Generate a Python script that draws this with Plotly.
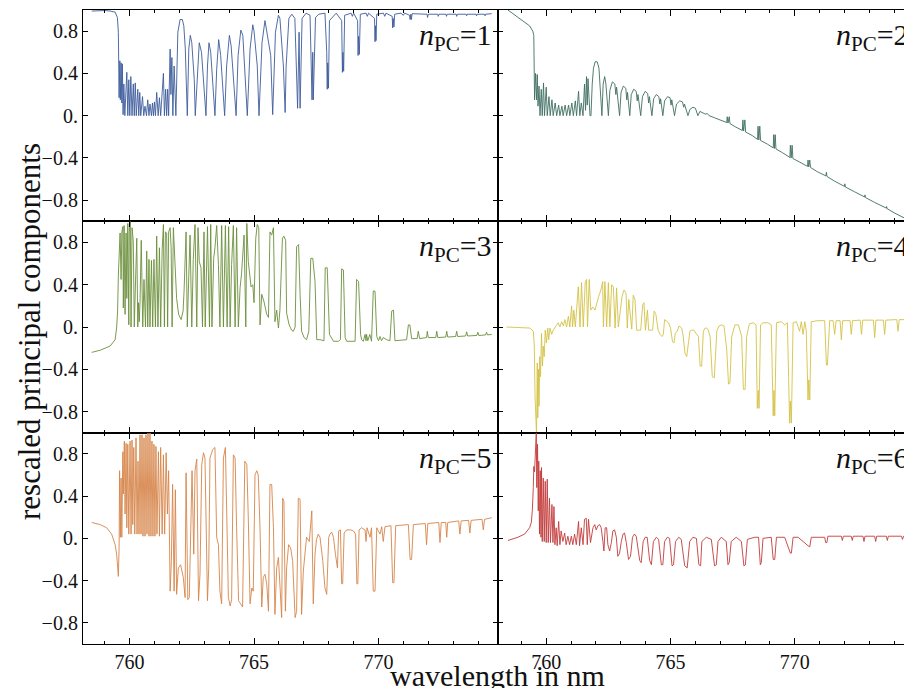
import plotly.graph_objects as go
from plotly.subplots import make_subplots

# ---------------- data (wavelength in nm, rescaled component value) ----------------
pc1 = [(758.48, 0.99), (759.00, 0.995), (759.22, 0.99), (759.42, 0.98), (759.51, 0.93), (759.55, 0.79),
       (759.58, 0.17), (759.61, 0.52), (759.63, 0.15), (759.66, 0.50), (759.69, 0.12), (759.71, 0.49),
       (759.74, 0.01), (759.77, 0.30), (759.81, 0.0), (759.89, 0.41), (759.93, 0.0), (759.97, 0.34),
       (760.01, 0.0), (760.05, 0.37), (760.10, 0.0), (760.15, 0.30), (760.19, 0.0), (760.23, 0.31),
       (760.27, 0.0), (760.33, 0.25), (760.37, 0.0), (760.41, 0.22), (760.45, 0.0), (760.52, 0.18),
       (760.57, 0.0), (760.62, 0.09), (760.68, 0.0), (760.73, 0.15), (760.78, 0.0), (760.82, 0.11),
       (760.88, 0.0), (760.92, 0.12), (760.96, 0.0), (761.00, 0.13), (761.04, 0.0), (761.09, 0.22),
       (761.15, 0.0), (761.20, 0.17), (761.25, 0.0), (761.36, 0.40), (761.40, 0.0), (761.45, 0.25),
       (761.49, 0.0), (761.53, 0.25), (761.57, 0.0), (761.63, 0.63), (761.66, 0.20), (761.70, 0.55),
       (761.74, 0.0), (761.79, 0.47), (761.86, 0.0),
       (761.94, 0.79), (762.03, 0.91), (762.12, 0.91), (762.18, 0.85), (762.20, 0.77), (762.24, 0.63),
       (762.28, 0.31), (762.32, 0.0),
       (762.38, 0.63), (762.44, 0.76), (762.50, 0.69), (762.56, 0.47), (762.60, 0.34), (762.64, 0.0),
       (762.74, 0.47), (762.80, 0.69), (762.89, 0.60), (762.99, 0.23), (763.07, 0.0),
       (763.13, 0.47), (763.19, 0.69), (763.26, 0.60), (763.37, 0.20), (763.43, 0.0),
       (763.50, 0.44), (763.58, 0.72), (763.66, 0.57), (763.77, 0.18), (763.82, 0.0),
       (763.90, 0.47), (764.01, 0.76), (764.08, 0.66), (764.20, 0.25), (764.28, 0.0),
       (764.36, 0.57), (764.47, 0.81), (764.55, 0.76), (764.67, 0.31), (764.73, 0.0),
       (764.84, 0.63), (764.95, 0.86), (765.00, 0.80), (765.13, 0.47), (765.20, 0.0),
       (765.32, 0.69), (765.44, 0.90), (765.51, 0.80), (765.67, 0.57), (765.75, 0.01),
       (765.86, 0.79), (765.98, 0.95), (766.04, 0.92), (766.18, 0.47), (766.25, 0.03),
       (766.29, 0.47), (766.40, 0.92), (766.52, 0.96), (766.64, 0.92), (766.75, 0.07), (766.81, 0.79),
       (766.85, 0.07), (766.93, 0.92), (767.09, 0.97), (767.25, 0.95), (767.33, 0.15), (767.36, 0.60),
       (767.38, 0.15), (767.47, 0.93), (767.60, 0.96), (767.85, 0.97), (767.92, 0.60), (767.94, 0.25),
       (767.96, 0.50), (767.99, 0.26), (768.03, 0.90), (768.30, 0.97), (768.52, 0.90), (768.55, 0.41),
       (768.57, 0.60), (768.60, 0.42), (768.64, 0.95), (768.90, 0.97), (768.95, 0.94), (769.00, 0.97),
       (769.16, 0.90), (769.18, 0.57), (769.20, 0.75), (769.23, 0.58), (769.27, 0.96), (769.50, 0.97),
       (769.55, 0.94), (769.60, 0.97), (769.84, 0.92), (769.86, 0.70), (769.88, 0.85), (769.90, 0.71),
       (769.93, 0.96), (770.20, 0.97), (770.25, 0.94), (770.30, 0.97), (770.55, 0.94), (770.57, 0.83),
       (770.59, 0.92), (770.62, 0.84), (770.65, 0.96), (770.90, 0.97), (771.00, 0.95), (771.05, 0.97),
       (771.25, 0.95), (771.27, 0.91), (771.30, 0.96), (771.32, 0.91), (771.35, 0.965), (771.60, 0.96),
       (771.95, 0.96), (771.97, 0.93), (772.00, 0.96), (772.38, 0.96), (772.40, 0.94), (772.43, 0.96),
       (772.71, 0.96), (772.73, 0.94), (772.76, 0.96), (773.12, 0.96), (773.14, 0.94), (773.17, 0.96),
       (773.52, 0.96), (773.54, 0.945), (773.56, 0.96), (773.92, 0.96), (773.94, 0.945), (773.96, 0.96),
       (774.26, 0.96), (774.28, 0.945), (774.30, 0.96), (774.55, 0.965)]

pc2 = [(758.46, 1.0), (759.33, 0.85), (759.46, 0.80), (759.50, 0.76), (759.53, 0.15), (759.57, 0.40),
       (759.61, 0.15), (759.64, 0.39), (759.67, 0.09), (759.71, 0.28), (759.75, 0.0), (759.80, 0.25),
       (759.84, 0.0), (759.89, 0.31), (759.93, 0.0), (760.00, 0.27), (760.04, 0.0), (760.11, 0.18),
       (760.16, 0.0), (760.23, 0.15), (760.28, 0.0), (760.36, 0.12), (760.42, 0.0), (760.50, 0.10),
       (760.55, 0.0), (760.63, 0.09), (760.68, 0.0), (760.76, 0.10), (760.82, 0.0), (760.90, 0.10),
       (760.95, 0.0), (761.03, 0.12), (761.09, 0.0), (761.17, 0.14), (761.22, 0.0), (761.30, 0.23),
       (761.35, 0.0), (761.41, 0.12), (761.48, 0.0), (761.54, 0.30), (761.58, 0.05), (761.62, 0.37),
       (761.65, 0.10), (761.68, 0.35), (761.76, 0.0), (761.80, 0.0),
       (761.85, 0.30), (761.90, 0.45), (761.97, 0.51), (762.05, 0.51), (762.12, 0.45), (762.17, 0.30),
       (762.24, 0.0), (762.29, 0.30), (762.35, 0.37), (762.40, 0.30), (762.45, 0.10), (762.50, 0.0),
       (762.56, 0.24), (762.66, 0.32), (762.76, 0.30), (762.80, 0.20), (762.83, 0.27), (762.90, 0.12),
       (762.95, 0.0), (763.01, 0.22), (763.10, 0.28), (763.20, 0.26), (763.24, 0.15), (763.27, 0.22),
       (763.33, 0.08), (763.36, 0.0), (763.42, 0.20), (763.52, 0.25), (763.62, 0.23), (763.66, 0.14),
       (763.69, 0.20), (763.76, 0.06), (763.80, 0.0), (763.87, 0.18), (763.98, 0.23), (764.08, 0.21),
       (764.12, 0.12), (764.15, 0.18), (764.21, 0.05), (764.25, 0.0), (764.32, 0.16), (764.43, 0.20),
       (764.53, 0.18), (764.57, 0.11), (764.60, 0.16), (764.66, 0.04), (764.69, 0.0), (764.76, 0.14),
       (764.88, 0.18), (764.98, 0.17), (765.02, 0.10), (765.05, 0.15), (765.12, 0.04), (765.16, 0.0),
       (765.24, 0.11), (765.37, 0.14), (765.48, 0.13), (765.53, 0.08), (765.56, 0.11), (765.65, 0.03),
       (765.70, 0.0), (765.78, 0.06), (765.90, 0.08), (766.00, 0.07), (766.06, 0.02), (766.10, 0.0),
       (766.18, 0.04), (766.30, 0.03), (766.40, 0.015), (766.48, 0.02), (766.55, 0.0),
       (766.77, -0.02), (767.00, -0.04), (767.26, -0.065), (767.28, -0.01), (767.31, -0.07),
       (767.36, -0.01), (767.39, -0.075), (767.60, -0.105), (767.89, -0.14), (767.91, -0.04),
       (767.94, -0.145), (767.99, -0.04), (768.02, -0.155), (768.30, -0.19), (768.50, -0.225),
       (768.52, -0.10), (768.55, -0.23), (768.59, -0.10), (768.62, -0.235), (768.90, -0.27),
       (769.13, -0.305), (769.15, -0.18), (769.18, -0.31), (769.21, -0.18), (769.24, -0.315),
       (769.50, -0.35), (769.80, -0.395), (769.82, -0.28), (769.85, -0.40), (769.89, -0.28),
       (769.92, -0.405), (770.20, -0.44), (770.51, -0.48), (770.53, -0.42), (770.56, -0.485),
       (770.60, -0.42), (770.63, -0.49), (770.90, -0.53), (771.25, -0.57), (771.27, -0.535),
       (771.29, -0.575), (771.60, -0.62), (772.00, -0.67), (772.01, -0.645), (772.03, -0.675),
       (772.40, -0.72), (772.81, -0.77), (772.82, -0.75), (772.84, -0.775), (773.20, -0.82),
       (773.68, -0.875), (773.69, -0.86), (773.71, -0.88), (774.00, -0.92), (774.30, -0.955),
       (774.50, -0.98)]

pc3 = [(758.48, -0.24), (758.82, -0.22), (759.22, -0.18), (759.42, -0.12), (759.48, -0.01),
       (759.52, 0.15), (759.55, 0.49), (759.62, 0.89), (759.66, 0.45), (759.69, 0.90), (759.73, 0.95),
       (759.75, 0.18), (759.78, 0.96), (759.82, 0.12), (759.86, 0.89), (759.89, 0.27), (759.93, 0.98),
       (759.97, 0.02), (759.99, 0.90), (760.03, 1.0), (760.06, 0.0), (760.10, 0.94), (760.15, 0.81),
       (760.19, 0.0), (760.25, 0.51), (760.29, 0.84), (760.33, 0.0), (760.36, 0.23), (760.39, 0.05),
       (760.42, 0.23), (760.47, 0.82), (760.53, 0.0), (760.58, 0.45), (760.64, 0.0), (760.69, 0.72),
       (760.73, 0.0), (760.78, 0.64), (760.82, 0.0), (760.88, 0.63), (760.93, 0.0), (760.98, 0.64),
       (761.04, 0.0), (761.09, 0.86), (761.14, 0.0), (761.20, 0.75), (761.25, 0.0), (761.31, 0.73),
       (761.36, 0.97), (761.40, 0.0), (761.44, 0.90), (761.49, 0.89), (761.53, 0.0), (761.57, 0.90),
       (761.63, 0.94), (761.67, 0.75), (761.71, 0.0), (761.76, 0.94), (761.81, 0.71), (761.89, 0.27),
       (761.97, 0.12), (762.07, 0.07), (762.15, 0.15), (762.19, 0.34), (762.27, 0.90), (762.32, 0.0),
       (762.38, 0.49), (762.43, 0.87), (762.50, 0.0), (762.56, 0.64), (762.63, 0.97), (762.70, 0.0),
       (762.75, 0.94), (762.80, 0.62), (762.87, 0.56), (762.93, 0.0), (762.99, 0.90), (763.04, 0.0),
       (763.13, 0.95), (763.21, 0.0), (763.26, 0.97), (763.31, 0.0), (763.38, 0.65), (763.43, 0.75),
       (763.50, 0.96), (763.57, 0.59), (763.63, 0.0), (763.70, 0.96), (763.77, 0.0), (763.85, 0.96),
       (763.92, 0.0), (763.98, 0.95), (764.04, 0.0), (764.10, 0.59), (764.17, 0.96), (764.24, 0.0),
       (764.30, 0.94), (764.37, 0.0), (764.44, 0.37), (764.50, 0.51), (764.60, 0.87), (764.67, 0.0),
       (764.71, 0.98), (764.77, 0.62), (764.88, 0.38), (764.95, 0.40), (765.00, 0.23), (765.07, 0.84),
       (765.13, 0.97), (765.19, 0.94), (765.24, 0.02), (765.31, 0.31), (765.40, 0.24), (765.51, 0.12),
       (765.58, 0.09), (765.64, 0.90), (765.71, 0.87), (765.78, 0.94), (765.84, 0.05), (765.91, 0.16),
       (765.98, -0.01), (766.04, 0.16), (766.14, 0.84), (766.20, 0.86), (766.27, 0.82), (766.31, 0.13),
       (766.41, 0.02), (766.51, -0.03), (766.58, -0.04), (766.65, 0.0), (766.71, 0.76), (766.79, 0.78),
       (766.85, 0.31), (766.91, -0.04), (767.01, -0.10), (767.11, -0.12), (767.20, -0.04),
       (767.28, 0.65), (767.36, 0.65), (767.45, 0.43), (767.52, -0.12), (767.65, -0.12),
       (767.81, -0.13), (767.86, 0.56), (767.94, 0.56), (768.03, -0.07), (768.19, -0.135),
       (768.39, -0.135), (768.47, -0.12), (768.52, 0.55), (768.59, 0.54), (768.66, -0.10),
       (768.72, -0.135), (769.06, -0.135), (769.12, 0.45), (769.20, 0.43), (769.28, -0.07),
       (769.32, -0.12), (769.39, -0.135), (769.46, -0.07), (769.50, -0.13), (769.52, -0.07),
       (769.57, -0.13), (769.65, -0.07), (769.72, -0.135), (769.79, 0.34), (769.86, 0.34),
       (769.93, -0.09), (770.00, -0.13), (770.06, -0.09), (770.12, -0.13), (770.19, -0.10),
       (770.33, -0.12), (770.46, -0.13), (770.53, 0.15), (770.60, 0.16), (770.66, -0.13),
       (771.13, -0.12), (771.20, 0.02), (771.26, 0.02), (771.33, -0.11), (771.55, -0.11),
       (771.60, -0.04), (771.65, -0.11), (771.93, -0.10), (771.96, -0.04), (772.00, -0.10),
       (772.30, -0.10), (772.34, -0.04), (772.38, -0.10), (772.70, -0.095), (772.74, -0.04),
       (772.78, -0.095), (773.10, -0.09), (773.14, -0.04), (773.18, -0.09), (773.50, -0.085),
       (773.54, -0.045), (773.58, -0.085), (773.95, -0.08), (773.99, -0.05), (774.03, -0.08),
       (774.30, -0.075), (774.34, -0.05), (774.38, -0.075), (774.55, -0.07)]

pc4 = [(758.40, 0.0), (759.34, -0.01), (759.48, -0.04), (759.52, -0.18), (759.55, -0.65),
       (759.57, -0.84), (759.61, -1.02), (759.64, -0.34), (759.66, -0.86), (759.69, -0.40),
       (759.71, -0.75), (759.74, -0.28), (759.77, -0.47), (759.81, -0.06), (759.85, -0.37),
       (759.88, -0.18), (759.92, -0.28), (759.96, -0.03), (760.01, -0.15), (760.06, -0.01),
       (760.10, -0.12), (760.15, -0.01), (760.22, -0.07), (760.28, -0.03), (760.35, -0.01),
       (760.42, 0.02), (760.48, 0.04), (760.55, 0.0), (760.62, 0.05), (760.69, 0.01), (760.75, 0.07),
       (760.82, 0.0), (760.89, 0.10), (760.95, 0.0), (761.02, 0.20), (761.06, 0.0), (761.11, 0.16),
       (761.17, 0.0), (761.29, 0.38), (761.36, 0.0), (761.42, 0.42), (761.49, 0.0), (761.57, 0.43),
       (761.62, 0.45), (761.66, 0.0), (761.73, 0.45), (761.79, 0.16), (761.87, 0.19), (761.96, 0.16),
       (762.03, 0.23), (762.11, 0.29), (762.20, 0.35), (762.27, 0.43), (762.30, 0.0), (762.36, 0.43),
       (762.43, 0.0), (762.50, 0.42), (762.56, 0.0), (762.63, 0.40), (762.70, 0.38), (762.77, -0.01),
       (762.83, 0.37), (762.90, 0.0), (763.05, 0.29), (763.13, 0.35), (763.21, 0.32), (763.26, -0.01),
       (763.32, 0.26), (763.44, -0.02), (763.50, 0.30), (763.57, 0.26), (763.64, -0.03), (763.80, -0.03),
       (763.88, 0.21), (763.93, 0.23), (763.99, -0.03), (764.07, 0.16), (764.12, -0.03), (764.28, -0.03),
       (764.34, 0.15), (764.41, 0.12), (764.50, -0.03), (764.58, -0.07), (764.66, -0.09), (764.71, -0.07),
       (764.76, 0.07), (764.84, 0.05), (764.92, 0.04), (765.00, -0.01), (765.08, -0.14), (765.14, -0.15),
       (765.19, -0.06), (765.27, -0.04), (765.34, 0.01), (765.45, -0.01), (765.51, -0.09), (765.58, -0.25),
       (765.65, -0.28), (765.72, -0.15), (765.78, -0.04), (765.85, -0.03), (765.94, -0.03), (766.02, -0.06),
       (766.12, -0.09), (766.19, -0.37), (766.25, -0.37), (766.32, -0.04), (766.39, -0.01), (766.45, -0.01),
       (766.52, -0.03), (766.59, -0.09), (766.68, -0.47), (766.76, -0.48), (766.86, -0.04), (766.95, 0.01),
       (767.06, 0.02), (767.15, 0.01), (767.26, -0.21), (767.33, -0.54), (767.39, -0.53), (767.46, -0.09),
       (767.59, 0.02), (767.73, 0.02), (767.86, -0.09), (767.93, -0.59), (768.00, -0.59), (768.06, -0.09),
       (768.17, 0.03), (768.33, 0.04), (768.44, 0.02), (768.49, -0.77), (768.53, -0.60), (768.56, -0.77),
       (768.62, 0.02), (768.72, 0.04), (768.92, 0.04), (769.05, 0.02), (769.13, -0.84), (769.16, -0.60),
       (769.19, -0.84), (769.26, 0.04), (769.46, 0.05), (769.59, 0.02), (769.70, 0.04), (769.79, -0.91),
       (769.82, -0.70), (769.86, -0.91), (769.93, 0.04), (770.06, 0.05), (770.19, -0.04), (770.26, 0.05),
       (770.33, -0.07), (770.40, 0.05), (770.46, -0.04), (770.53, -0.69), (770.56, -0.50), (770.60, -0.69),
       (770.66, 0.05), (770.93, 0.06), (771.20, 0.06), (771.27, -0.36), (771.31, -0.36), (771.40, 0.06),
       (771.54, 0.06), (771.60, -0.07), (771.66, 0.06), (771.82, 0.06), (771.87, -0.12), (771.92, 0.06),
       (772.22, 0.06), (772.27, -0.07), (772.32, 0.06), (772.63, 0.065), (772.68, -0.07), (772.73, 0.065),
       (773.16, 0.065), (773.21, -0.10), (773.26, 0.065), (773.56, 0.065), (773.61, -0.07), (773.66, 0.065),
       (774.10, 0.07), (774.15, -0.04), (774.20, 0.07), (774.50, 0.07)]

pc5 = [(758.48, 0.15), (758.82, 0.13), (759.08, 0.10), (759.28, 0.04), (759.42, -0.06), (759.48, -0.15),
       (759.55, -0.36), (759.58, -0.09), (759.60, 0.64), (759.63, 0.01), (759.66, 0.57), (759.69, 0.01),
       (759.73, 0.82), (759.75, 0.42), (759.79, 0.92), (759.82, 0.23), (759.86, 0.90), (759.89, 0.10),
       (759.93, 0.89), (759.97, 0.04), (760.02, 0.92), (760.06, 0.04), (760.10, 0.93), (760.13, 0.13),
       (760.17, 0.86), (760.21, 0.04), (760.26, 0.95), (760.30, 0.04), (760.34, 0.73), (760.38, 0.04),
       (760.42, 0.98), (760.46, 0.04), (760.50, 0.98), (760.54, 0.02), (760.58, 0.95), (760.62, 0.02),
       (760.66, 0.98), (760.70, 0.04), (760.74, 1.0), (760.78, 0.02), (760.82, 1.0), (760.86, 0.02),
       (760.90, 0.92), (760.94, 0.02), (760.98, 0.89), (761.02, 0.02), (761.06, 0.87), (761.10, 0.04),
       (761.16, 0.82), (761.20, 0.02), (761.25, 0.86), (761.31, 0.04), (761.36, 0.79), (761.41, 0.04),
       (761.47, 0.81), (761.52, 0.23), (761.57, 0.64), (761.63, -0.50), (761.68, -0.21), (761.73, 0.51),
       (761.79, -0.50), (761.84, 0.46), (761.89, -0.53), (761.96, -0.28), (762.05, -0.25), (762.16, -0.37),
       (762.23, -0.56), (762.27, 0.62), (762.34, -0.58), (762.40, -0.56), (762.51, 0.64), (762.58, -0.15),
       (762.63, 0.64), (762.70, 0.75), (762.77, -0.59), (762.83, -0.34), (762.90, 0.70), (762.97, 0.81),
       (763.03, 0.76), (763.07, 0.10), (763.13, -0.59), (763.18, -0.28), (763.23, 0.76), (763.34, 0.84),
       (763.43, 0.86), (763.50, 0.01), (763.57, -0.06), (763.63, -0.50), (763.70, -0.62), (763.77, 0.76),
       (763.85, 0.86), (763.92, 0.04), (763.97, -0.56), (764.04, -0.64), (764.10, -0.58), (764.17, 0.79),
       (764.24, 0.76), (764.30, 0.10), (764.38, -0.59), (764.46, -0.62), (764.54, -0.65), (764.63, 0.73),
       (764.71, 0.70), (764.77, 0.19), (764.84, -0.62), (764.91, -0.47), (764.97, -0.50), (765.04, 0.60),
       (765.11, 0.64), (765.17, 0.60), (765.24, 0.10), (765.31, -0.65), (765.37, -0.37), (765.44, -0.34),
       (765.51, -0.43), (765.58, -0.69), (765.64, 0.51), (765.71, 0.51), (765.78, 0.10), (765.84, -0.72),
       (765.91, -0.28), (765.98, -0.18), (766.04, -0.47), (766.11, -0.75), (766.15, 0.38), (766.20, 0.35),
       (766.26, -0.69), (766.31, -0.28), (766.39, -0.06), (766.47, -0.09), (766.55, -0.21), (766.65, -0.75),
       (766.71, -0.69), (766.78, 0.38), (766.85, 0.37), (766.91, -0.72), (766.98, -0.31), (767.05, -0.15),
       (767.11, 0.01), (767.22, -0.03), (767.32, 0.26), (767.38, -0.62), (767.45, -0.15), (767.51, -0.01),
       (767.58, 0.04), (767.65, 0.01), (767.76, -0.21), (767.85, -0.47), (767.92, -0.53), (768.00, 0.01),
       (768.05, 0.04), (768.12, 0.06), (768.19, 0.01), (768.27, -0.15), (768.35, -0.28), (768.40, 0.07),
       (768.47, 0.08), (768.52, -0.43), (768.56, -0.43), (768.62, 0.05), (768.72, 0.08), (768.88, 0.08),
       (768.99, 0.07), (769.08, 0.04), (769.13, -0.43), (769.17, -0.43), (769.22, 0.08), (769.32, 0.10),
       (769.46, 0.08), (769.50, -0.03), (769.54, 0.10), (769.66, 0.01), (769.72, 0.10), (769.79, -0.50),
       (769.86, -0.50), (769.93, 0.10), (770.06, 0.04), (770.13, 0.11), (770.19, -0.03), (770.26, 0.11),
       (770.50, 0.12), (770.57, -0.42), (770.62, -0.42), (770.69, 0.12), (771.20, 0.13), (771.27, -0.20),
       (771.33, -0.20), (771.40, 0.13), (771.88, 0.14), (771.93, -0.06), (771.98, 0.14), (772.42, 0.15),
       (772.47, -0.04), (772.52, 0.15), (772.70, 0.15), (772.74, 0.01), (772.78, 0.15), (773.22, 0.165),
       (773.27, 0.04), (773.32, 0.165), (773.62, 0.17), (773.67, 0.05), (773.72, 0.17), (774.16, 0.18),
       (774.21, 0.08), (774.26, 0.18), (774.55, 0.195)]

pc6 = [(758.46, -0.02), (758.86, 0.01), (759.13, 0.04), (759.33, 0.10), (759.40, 0.15), (759.44, 0.26),
       (759.48, 0.48), (759.50, 0.68), (759.53, 0.63), (759.56, 0.76), (759.60, 1.0), (759.62, 0.48),
       (759.65, 0.89), (759.68, 0.26), (759.70, 0.73), (759.73, 0.04), (759.76, 0.64), (759.79, 0.01),
       (759.81, 0.67), (759.84, -0.03), (759.88, 0.57), (759.92, -0.03), (759.96, 0.54), (760.00, -0.04),
       (760.04, 0.56), (760.08, -0.04), (760.13, 0.38), (760.17, -0.04), (760.23, 0.32), (760.27, -0.04),
       (760.31, 0.30), (760.35, -0.06), (760.40, 0.10), (760.44, -0.07), (760.50, 0.16), (760.55, -0.06),
       (760.60, 0.07), (760.67, -0.03), (760.74, 0.05), (760.80, -0.06), (760.87, 0.02), (760.94, -0.06),
       (761.01, 0.02), (761.07, -0.06), (761.14, 0.04), (761.21, -0.06), (761.30, 0.16), (761.34, -0.07),
       (761.41, 0.10), (761.48, -0.06), (761.54, 0.18), (761.61, 0.19), (761.65, -0.06), (761.70, 0.18),
       (761.78, -0.04), (761.88, 0.10), (761.95, 0.13), (762.01, 0.08), (762.08, 0.12), (762.15, 0.13),
       (762.21, 0.10), (762.28, -0.03), (762.32, -0.12), (762.37, 0.10), (762.43, 0.10), (762.48, -0.06),
       (762.55, -0.12), (762.62, -0.04), (762.68, 0.07), (762.75, 0.08), (762.82, 0.01), (762.88, -0.17),
       (762.95, -0.14), (763.02, -0.03), (763.09, 0.04), (763.15, 0.05), (763.22, -0.04), (763.31, -0.20),
       (763.39, -0.17), (763.47, 0.01), (763.55, 0.04), (763.62, 0.02), (763.76, -0.21), (763.82, -0.23),
       (763.90, -0.03), (763.98, 0.01), (764.06, 0.01), (764.16, -0.21), (764.23, -0.25), (764.31, -0.03),
       (764.43, 0.01), (764.52, -0.01), (764.63, -0.25), (764.69, -0.25), (764.76, -0.03), (764.87, 0.01),
       (764.96, 0.0), (765.06, -0.26), (765.12, -0.25), (765.20, -0.03), (765.33, 0.01), (765.43, -0.01),
       (765.57, -0.26), (765.67, -0.28), (765.77, -0.03), (765.90, 0.01), (766.04, 0.0), (766.14, -0.25),
       (766.21, -0.26), (766.26, -0.03), (766.44, 0.01), (766.64, -0.01), (766.77, -0.26), (766.84, -0.25),
       (766.91, -0.03), (767.04, 0.01), (767.24, -0.03), (767.31, -0.25), (767.36, -0.23), (767.44, -0.03),
       (767.64, 0.01), (767.85, -0.03), (767.95, -0.26), (768.01, -0.25), (768.09, -0.01), (768.38, 0.01),
       (768.54, 0.01), (768.61, -0.25), (768.65, -0.23), (768.72, 0.0), (769.05, 0.01), (769.13, -0.20),
       (769.19, -0.20), (769.26, 0.01), (769.59, 0.01), (769.82, -0.14), (769.86, -0.14), (769.93, 0.01),
       (770.13, 0.01), (770.53, -0.07), (770.60, -0.08), (770.66, 0.01), (771.20, 0.01), (771.24, -0.04),
       (771.29, -0.04), (771.33, 0.02), (771.87, 0.02), (771.91, -0.02), (771.95, 0.02), (772.27, 0.02),
       (772.31, -0.02), (772.35, 0.02), (772.74, 0.02), (772.78, -0.03), (772.82, 0.02), (773.21, 0.02),
       (773.25, -0.03), (773.29, 0.02), (773.68, 0.02), (773.72, -0.02), (773.76, 0.02), (774.29, 0.02),
       (774.33, -0.01), (774.37, 0.02), (774.55, 0.025)]

series = [pc1, pc2, pc3, pc4, pc5, pc6]
panel_labels = ["1", "2", "3", "4", "5", "6"]
y_tick_values = [-0.8, -0.4, 0.0, 0.4, 0.8]
y_tick_text = ["\u22120.8", "\u22120.4", "0.", "0.4", "0.8"]
x_major_ticks = [760, 765, 770]

# ---------------- styling ----------------
colors = ["#3d5b9c", "#3f6e61", "#6b8e3b", "#d4c246", "#d6844a", "#c23b3b"]
SERIF = "Liberation Serif, Times New Roman, serif"
W, H = 904, 688
ML, MR, MT, MB = 83, 0, 10, 44
PW = W - ML - MR
PH = H - MT - MB

fig = make_subplots(rows=3, cols=2, horizontal_spacing=0, vertical_spacing=0,
                    column_widths=[415, 406])

for i, pts in enumerate(series):
    r, c = i // 2 + 1, i % 2 + 1
    xs = [p[0] for p in pts]
    ys = [p[1] for p in pts]
    fig.add_trace(go.Scatter(x=xs, y=ys, mode="lines",
                             line=dict(color=colors[i], width=0.9),
                             hoverinfo="skip", showlegend=False), row=r, col=c)

x_ranges = {1: [758.13, 774.80], 2: [758.06, 774.39]}
for r in (1, 2, 3):
    for c in (1, 2):
        fig.update_xaxes(row=r, col=c, range=x_ranges[c], tickvals=x_major_ticks,
                         ticks="inside", ticklen=6, tickwidth=1, tickcolor="black",
                         minor=dict(tick0=760, dtick=1, ticks="inside", ticklen=3,
                                    tickwidth=1, tickcolor="black", showgrid=False),
                         showline=True, linecolor="black", linewidth=1.2, mirror="allticks",
                         showgrid=False, zeroline=False, showticklabels=(r == 3),
                         tickfont=dict(family=SERIF, size=20, color="#111"))
        fig.update_yaxes(row=r, col=c, range=[-1.0, 1.0], tickvals=y_tick_values,
                         ticktext=y_tick_text, ticks="inside", ticklen=5, tickwidth=1,
                         tickcolor="black", showline=True, linecolor="black", linewidth=1.2,
                         mirror=("allticks" if c == 1 else False),
                         showgrid=False, zeroline=False, showticklabels=(c == 1),
                         tickfont=dict(family=SERIF, size=20, color="#111"))

# panel labels
row_h = PH / 3.0
for i, lab in enumerate(panel_labels):
    r, c = i // 2, i % 2
    right_px = 494 + c * 416.8
    top_px = 16 + r * row_h
    fig.add_annotation(xref="paper", yref="paper",
                       x=(right_px - ML) / PW, y=1 - (top_px - MT) / PH,
                       xanchor="right", yanchor="top", showarrow=False,
                       text="<i>n</i><sub>PC</sub>=" + lab,
                       font=dict(family=SERIF, size=30, color="#111"))

# axis titles
fig.add_annotation(xref="paper", yref="paper", x=(497 - ML) / PW, y=1 - (676 - MT) / PH,
                   xanchor="center", yanchor="middle", showarrow=False,
                   text="wavelength in nm", font=dict(family=SERIF, size=30, color="#111"))
fig.add_annotation(xref="paper", yref="paper", x=(30 - ML) / PW, y=1 - (332 - MT) / PH,
                   xanchor="center", yanchor="middle", showarrow=False, textangle=-90,
                   text="rescaled principal components", font=dict(family=SERIF, size=31, color="#111"))

fig.update_layout(width=W, height=H, margin=dict(l=ML, r=MR, t=MT, b=MB),
                  paper_bgcolor="white", plot_bgcolor="white", showlegend=False)

fig.write_html("out.html")
